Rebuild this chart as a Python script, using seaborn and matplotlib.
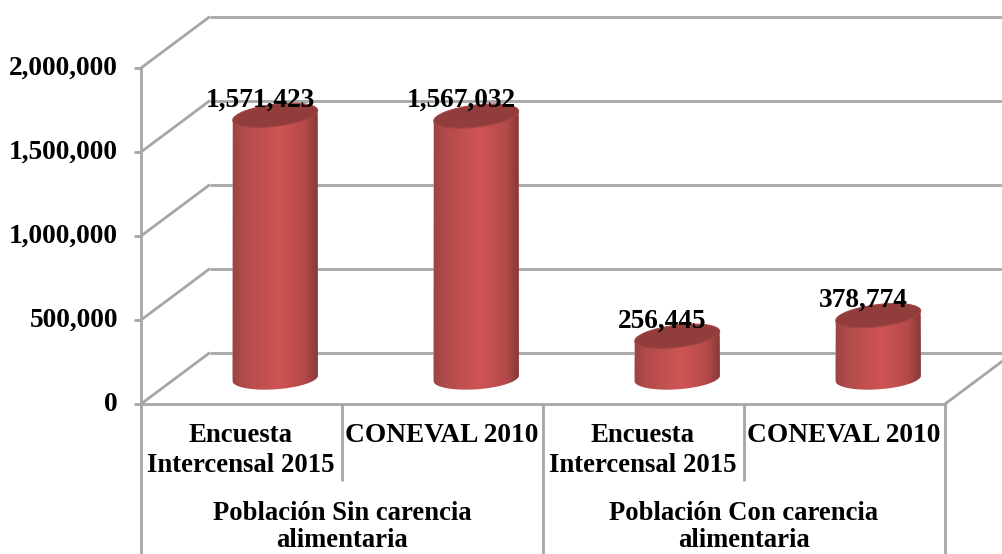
import numpy as np
import pandas as pd
import seaborn as sns
import matplotlib
matplotlib.use("Agg")
import matplotlib.pyplot as plt
from matplotlib.colors import LinearSegmentedColormap
from matplotlib.lines import Line2D
from matplotlib.patches import Ellipse, PathPatch
from matplotlib.path import Path
from matplotlib.transforms import IdentityTransform, ScaledTranslation

# ---- data ----
groups = ["Población Sin carencia\nalimentaria", "Población Con carencia\nalimentaria"]
categories = ["Encuesta\nIntercensal 2015", "CONEVAL 2010", "Encuesta\nIntercensal 2015", "CONEVAL 2010"]
keys = ["a", "b", "c", "d"]
values = [1571423, 1567032, 256445, 378774]
value_labels = ["1,571,423", "1,567,032", "256,445", "378,774"]
y_ticks = [0, 500000, 1000000, 1500000, 2000000]
y_tick_labels = ["0", "500,000", "1,000,000", "1,500,000", "2,000,000"]

W, H = 1003, 554
sns.set_theme(style="white")
plt.rcParams["font.family"] = ["Liberation Serif", "DejaVu Serif"]
plt.rcParams["font.weight"] = "bold"
FS = 19.7
FS_CAT = 19.3
FS_GROUP = 19.2
GRID = "#a6a6a6"
LW = 2.0

fig = plt.figure(figsize=(W / 100, H / 100), dpi=100, facecolor="white")

# front plane, image pixels: x 141..945, y 404..68
X0, X1, Y0, Y1 = 141, 945, 404, 68
ppu = (Y0 - Y1) / 2000000

def axes_at(x0, x1, y_bottom, y_top, z):
    a = fig.add_axes([x0 / W, (H - y_bottom) / H, (x1 - x0) / W, (y_bottom - y_top) / H], zorder=z)
    a.patch.set_alpha(0)
    return a

ax = axes_at(X0, X1, Y0, Y1, 3)
ax.set_xlim(-0.5, 3.5)
ax.set_ylim(0, 2000000)
ax.set_yticks(y_ticks)
ax.set_yticklabels(y_tick_labels, fontsize=FS, fontweight="bold", color="black")
ax.set_xticks([])
ax.tick_params(axis="y", length=5, width=LW, color=GRID, pad=11.5, left=True)
shift = ScaledTranslation(0, 2.5 / 100, fig.dpi_scale_trans)
for lab in ax.get_yticklabels():
    lab.set_transform(lab.get_transform() + shift)
for s in ["top", "right"]:
    ax.spines[s].set_visible(False)
for s in ["left", "bottom"]:
    ax.spines[s].set_color(GRID)
    ax.spines[s].set_linewidth(LW)

def to_px(xv, yv):
    p = ax.transData.transform((xv, yv))
    return p[0], p[1]

def seg(x0, y0, x1, y1, lw=LW, color=GRID, z=1):
    fig.add_artist(Line2D([x0, x1], [y0, y1], transform=IdentityTransform(),
                          color=color, lw=lw, zorder=z, solid_capstyle="butt"))

# walls and floor
DX, DY = 69, 51.5
for t in y_ticks:
    px, py = to_px(-0.5, t)
    seg(px, py, px + DX, py + DY)
    seg(px + DX, py + DY, W, py + DY)
px, py = to_px(3.5, 0)
seg(px, py, W, py + (W - px) * DY / DX)

# category separators
for i in [0.5, 2.5]:
    px, py = to_px(i, 0)
    seg(px, py, px, py - 77)
for i in [-0.5, 1.5, 3.5]:
    px, py = to_px(i, 0)
    seg(px, py, px, 0)

# cylinders
CX, CY = 33.7, 25.7
below = 24
cax = axes_at(X0 + CX, X1 + CX, Y0 - CY + below, Y1 - CY, 2)
df = pd.DataFrame({"key": keys, "value": values})
sns.barplot(data=df, x="key", y="value", color="#b84a4a", width=0.425,
            saturation=1, ax=cax, order=keys)
cax.set_xlim(-0.5, 3.5)
cax.set_ylim(-below / ppu, 2000000)
cax.axis("off")

cmap = LinearSegmentedColormap.from_list("cyl", [
    (0.0, "#9a4343"), (0.15, "#b34c4c"), (0.55, "#cf5454"),
    (0.85, "#b54a4a"), (1.0, "#863938")])
grad = np.linspace(0, 1, 256).reshape(1, -1)
TILT_TOP, TILT_BOT = 7.0, 4.0
B = 11.0

def ell(cx, cy, a, b, t, deg):
    th = np.deg2rad(deg)
    return (cx + a * np.cos(t) * np.cos(th) - b * np.sin(t) * np.sin(th),
            cy + a * np.cos(t) * np.sin(th) + b * np.sin(t) * np.cos(th))

for bar, v in zip(list(cax.patches), values):
    x0, w = bar.get_x(), bar.get_width()
    (lx, _), (rx, _) = cax.transData.transform((x0, 0)), cax.transData.transform((x0 + w, 0))
    cx = (lx + rx) / 2
    a = (rx - lx) / 2
    base = cax.transData.transform((0, 0))[1]
    top = cax.transData.transform((0, v))[1] - 1
    t = np.linspace(np.pi, 2 * np.pi, 60)
    bx, by = ell(cx, base, a, B, t, TILT_BOT)
    tx, ty = ell(cx, top, a, B, np.array([0.0, np.pi]), TILT_TOP)
    verts = np.column_stack([np.r_[bx, tx], np.r_[by, ty]])
    verts = np.vstack([verts, verts[0]])
    clip = PathPatch(Path(verts), transform=IdentityTransform(), fc="none", ec="none")
    im = cax.imshow(grad, cmap=cmap, aspect="auto", zorder=3,
                    extent=(x0, x0 + w, -below / ppu, v + 10 / ppu), interpolation="bilinear")
    im.set_clip_path(clip)
    bar.set_clip_path(clip)
    fig.add_artist(Ellipse((cx, top), 2 * a, 2 * B, angle=TILT_TOP, transform=IdentityTransform(),
                           fc="#913d3c", ec="#a34544", lw=0.8, zorder=4))
cax.set_xlim(-0.5, 3.5)
cax.set_ylim(-below / ppu, 2000000)

# data labels, above the cylinders
tax = axes_at(X0 + CX, X1 + CX, Y0 - CY + below, Y1 - CY, 6)
tax.set_xlim(-0.5, 3.5)
tax.set_ylim(-below / ppu, 2000000)
tax.axis("off")
for i, (v, s) in enumerate(zip(values, value_labels)):
    tax.annotate(s, xy=(i, v), xytext=(-15, 8), textcoords="offset pixels", ha="center",
                 va="baseline", fontsize=FS, fontweight="bold", color="black",
                 annotation_clip=False)

# category and group labels
for i, s in enumerate(categories):
    ax.annotate(s, xy=(i, 0), xytext=(-1, -19), textcoords="offset pixels", ha="center", va="top",
                fontsize=FS if "\n" not in s else FS_CAT, fontweight="bold", color="black",
                linespacing=1.26, multialignment="center", annotation_clip=False)
for i, s in zip([0.5, 2.5], groups):
    ax.annotate(s, xy=(i, 0), xytext=(0, -97), textcoords="offset pixels", ha="center", va="top",
                fontsize=FS_GROUP, fontweight="bold", color="black", linespacing=1.12,
                multialignment="center", annotation_clip=False)

fig.savefig("out.png", dpi=100, facecolor="white")
